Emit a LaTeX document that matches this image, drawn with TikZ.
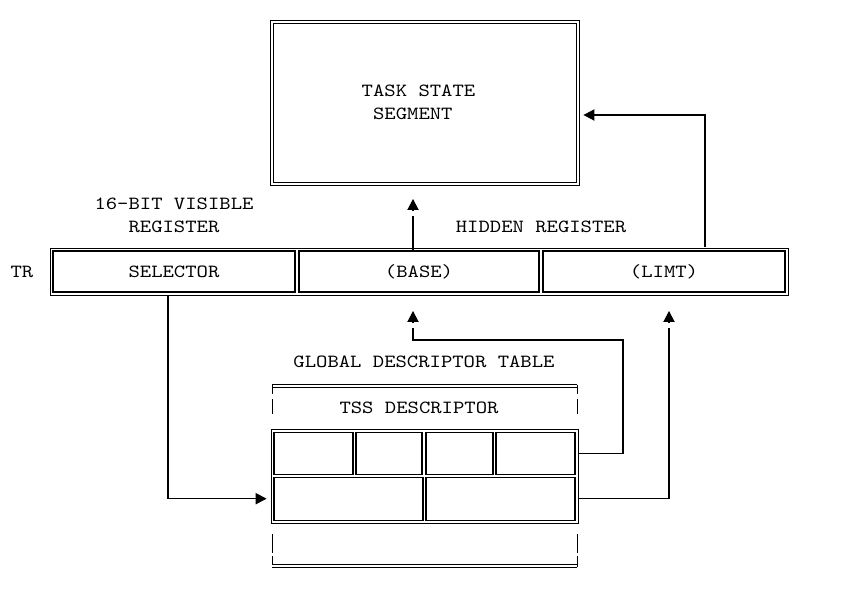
\documentclass[tikz,border=0pt]{standalone}
\usepackage{fontspec}
\newfontfamily\crtfont{lmmono10-regular}[Extension=.otf, FakeStretch=1.165]
\usetikzlibrary{arrows.meta,positioning,calc}

\begin{document}
\begin{tikzpicture}[
    x=0.025cm, y=-0.025cm,
    txt/.style={font=\crtfont\fontsize{13.2}{16.3}\selectfont, align=center, inner sep=0pt},
    frm/.style={draw, line width=0.5pt, inner sep=0pt},
    cel/.style={txt, draw, line width=0.9pt, text height=8pt, text depth=0pt},
    dbl/.style={draw, double, double distance=1.3pt, line width=0.6pt},
    ln/.style={line width=0.75pt},
    arr/.style={ln, -{Triangle[length=7.8pt,width=8pt]}},
    brk/.style={line width=0.6pt}
  ]
  \useasboundingbox (0,0) rectangle (844,605);
  % task state segment
  \node[dbl,minimum width=7.65cm,minimum height=4.05cm] (tss) at (425,103) {};
  \node[txt,align=left] (tsslbl) at (418.5,102.5) {TASK STATE\\\hphantom{X}SEGMENT};
  % TR register
  \node[txt,anchor=base] (tr) at (22,277.5) {TR};
  \node[frm,minimum width=18.45cm,minimum height=1.175cm] (trf) at (419,271.5) {};
  \node[cel,minimum width=6.05cm,minimum height=1.025cm] (sel) at (174,271.5) {SELECTOR};
  \node[cel,minimum width=6cm,minimum height=1.025cm] (base) at (419,271.5) {(BASE)};
  \node[cel,minimum width=6.05cm,minimum height=1.025cm] (limt) at (664,271.5) {(LIMT)};
  \node[txt] (vis) at (174,215.5) {16-BIT VISIBLE\\REGISTER};
  \node[txt,anchor=base] (hid) at (541,232.5) {HIDDEN REGISTER};
  % descriptor table
  \node[txt,anchor=base] (gdt) at (424,367.5) {GLOBAL DESCRIPTOR TABLE};
  \node[txt,anchor=base] (tssd) at (419,413.5) {TSS DESCRIPTOR};
  \node[frm,minimum width=7.675cm,minimum height=2.35cm] (desc) at (424.5,476.3) {};
  \node[cel,minimum width=1.975cm,minimum height=1.05cm] (hi1) at (313.5,453.5) {};
  \node[cel,minimum width=1.65cm,minimum height=1.05cm] (hi2) at (389,453.5) {};
  \node[cel,minimum width=1.675cm,minimum height=1.05cm] (hi3) at (459.5,453.5) {};
  \node[cel,minimum width=1.975cm,minimum height=1.05cm] (hi4) at (535.5,453.5) {};
  \node[cel,minimum width=3.725cm,minimum height=1.075cm] (lo1) at (348.5,498.7) {};
  \node[cel,minimum width=3.725cm,minimum height=1.075cm] (lo2) at (500.5,498.7) {};
  % brackets
  \draw[brk,double,double distance=1.2pt] (272,386) -- (577,386);
  \draw[brk,dash pattern=on 6.4pt off 3.5pt on 10.6pt off 30pt] (272,385) -- (272,416) (577,385) -- (577,416);
  \draw[brk,dash pattern=on 13.5pt off 1.8pt on 9pt off 30pt] (272,534) -- (272,567) (577,534) -- (577,567);
  \draw[brk,double,double distance=1.2pt] (272,566) -- (577,566);
  % connectors
  \coordinate (baseup) at (413,199);
  \coordinate (basedn) at (413,311);
  \coordinate (limtdn) at (669,311);
  \coordinate (bend) at (623,340);
  \draw[ln,shorten >=12pt] ($(base.north)+(-6,0)$) -- (baseup);
  \draw[arr] ($(baseup)+(0,11)$) -- (baseup);
  \draw[arr] ($(limt.north)+(41,-3)$) |- ($(tss.east)+(5,12)$);
  \draw[arr] ($(sel.south)+(-6,3)$) |- ($(desc.west |- lo1)+(-4,0)$);
  \draw[ln,shorten >=12pt] (desc.east |- hi4) -| (bend) -| (basedn);
  \draw[arr] ($(basedn)+(0,11)$) -- (basedn);
  \draw[ln,shorten >=12pt] (desc.east |- lo2) -| (limtdn);
  \draw[arr] ($(limtdn)+(0,11)$) -- (limtdn);
\end{tikzpicture}
\end{document}
